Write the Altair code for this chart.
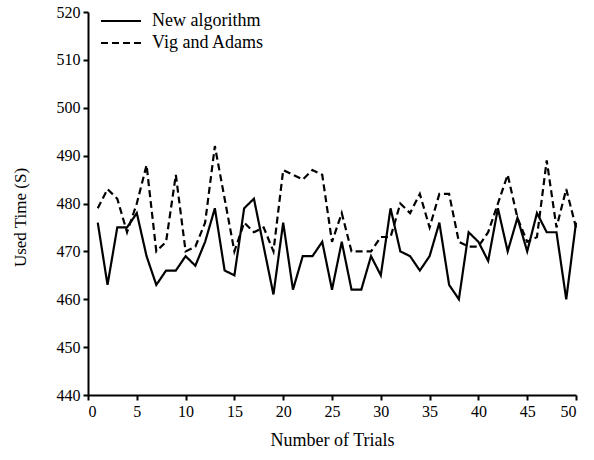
import altair as alt
import pandas as pd

# Trial index and measured run times (seconds) for both methods
trials = list(range(1, 51))
new_algorithm = [
    476, 463, 475, 475, 478, 469, 463, 466, 466, 469,
    467, 472, 479, 466, 465, 479, 481, 471, 461, 476,
    462, 469, 469, 472, 462, 472, 462, 462, 469, 465,
    479, 470, 469, 466, 469, 476, 463, 460, 474, 472,
    468, 479, 470, 477, 470, 478, 474, 474, 460, 476,
]
vig_adams = [
    479, 483, 481, 474, 480, 488, 470, 472, 486, 470,
    471, 476, 492, 481, 470, 476, 474, 475, 470, 487,
    486, 485, 487, 486, 472, 478, 470, 470, 470, 473,
    473, 480, 478, 482, 475, 482, 482, 472, 471, 471,
    474, 480, 486, 477, 472, 473, 489, 475, 483, 475,
]
series_names = ["New algorithm", "Vig and Adams"]
x_ticks = list(range(0, 51, 5))
y_ticks = list(range(440, 521, 10))

df = pd.DataFrame({
    "trial": trials * 2,
    "time": new_algorithm + vig_adams,
    "method": [series_names[0]] * len(trials) + [series_names[1]] * len(trials),
})

FONT = "Liberation Serif"

axis_style = dict(
    grid=False, labelFont=FONT, titleFont=FONT, labelColor="black", titleColor="black",
    domainColor="black", domainWidth=2, tickColor="black", tickWidth=2, tickSize=5,
    titleFontWeight="normal", labelFontSize=16,
)

chart = (
    alt.Chart(df)
    .mark_line(color="black", strokeWidth=2.2)
    .encode(
        x=alt.X(
            "trial:Q",
            scale=alt.Scale(domain=[0, 50], nice=False),
            axis=alt.Axis(values=x_ticks, title="Number of Trials", titleFontSize=18,
                          labelPadding=3, titlePadding=12, **axis_style),
        ),
        y=alt.Y(
            "time:Q",
            scale=alt.Scale(domain=[440, 520], nice=False, zero=False),
            axis=alt.Axis(values=y_ticks, title="Used Time (S)", titleFontSize=17,
                          labelPadding=3, titlePadding=27, titleY=205, **axis_style),
        ),
        strokeDash=alt.StrokeDash(
            "method:N",
            scale=alt.Scale(domain=series_names, range=[[1, 0], [7, 4]]),
            legend=alt.Legend(
                title=None, orient="none", legendX=22, legendY=-2,
                symbolType="M-2,0H2", symbolSize=400, symbolStrokeWidth=2,
                symbolStrokeColor="black", symbolFillColor="transparent",
                labelFontSize=18, labelFont=FONT, labelColor="black",
                rowPadding=2, labelOffset=20,
            ),
        ),
    )
    .properties(
        width=488, height=383, background="white",
        padding={"left": 88, "top": 12, "right": 18, "bottom": 65},
        autosize=alt.AutoSizeParams(type="none"),
    )
    .configure_view(stroke=None)
)

chart.save("out.html", embed_options={"renderer": "svg", "actions": False})
